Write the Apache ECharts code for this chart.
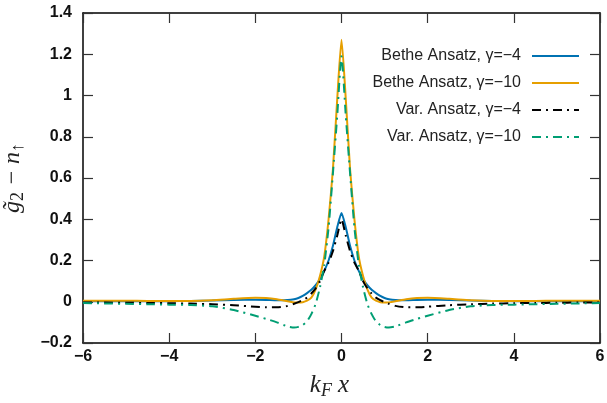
<!DOCTYPE html>
<html>
<head>
<meta charset="utf-8">
<script src="https://cdn.jsdelivr.net/npm/echarts@6/dist/echarts.min.js"></script>
<style>
  html, body { margin: 0; padding: 0; background: #fff; }
  #main { width: 607px; height: 403px; }
</style>
</head>
<body>
<div id="main"></div>
<script>
(function() {
    // x positions (k_F x)
    var xs = [-6, -5.5, -5, -4.5, -4, -3.5, -3, -2.5, -2, -1.75, -1.5, -1.25, -1.1, -1, -0.9, -0.8, -0.7, -0.6, -0.5, -0.4, -0.3, -0.2, -0.1,
              0,
              0.1, 0.2, 0.3, 0.4, 0.5, 0.6, 0.7, 0.8, 0.9, 1, 1.1, 1.25, 1.5, 1.75, 2, 2.5, 3, 3.5, 4, 4.5, 5, 5.5, 6];

    // Bethe Ansatz, gamma = -4
    var betheG4 = [0.003, 0.003, 0.003, 0.003, 0.003, 0.004, 0.006, 0.009, 0.01, 0.009, 0.007, 0.008, 0.012, 0.018, 0.028, 0.042, 0.058, 0.08, 0.11, 0.15, 0.2, 0.27, 0.36,
                   0.43,
                   0.36, 0.27, 0.2, 0.15, 0.11, 0.08, 0.058, 0.042, 0.028, 0.018, 0.012, 0.008, 0.007, 0.009, 0.01, 0.009, 0.006, 0.004, 0.003, 0.003, 0.003, 0.003, 0.003];

    // Bethe Ansatz, gamma = -10
    var betheG10 = [0.005, 0.005, 0.005, 0.004, 0.004, 0.004, 0.007, 0.014, 0.019, 0.018, 0.012, 0.002, -0.003, -0.004, -0.002, 0.005, 0.02, 0.06, 0.125, 0.22, 0.4, 0.64, 0.98,
                    1.27,
                    0.98, 0.64, 0.4, 0.22, 0.125, 0.06, 0.02, 0.005, -0.002, -0.004, -0.003, 0.002, 0.012, 0.018, 0.019, 0.014, 0.007, 0.004, 0.004, 0.004, 0.005, 0.005, 0.005];

    // Var. Ansatz, gamma = -4
    var varG4 = [-0.004, -0.004, -0.005, -0.006, -0.007, -0.009, -0.012, -0.017, -0.024, -0.027, -0.027, -0.02, -0.01, -0.002, 0.008, 0.02, 0.04, 0.065, 0.1, 0.15, 0.19, 0.245, 0.32,
                 0.40,
                 0.32, 0.245, 0.19, 0.15, 0.1, 0.065, 0.04, 0.02, 0.008, -0.002, -0.01, -0.02, -0.027, -0.027, -0.024, -0.017, -0.012, -0.009, -0.007, -0.006, -0.005, -0.004, -0.004];

    // Var. Ansatz, gamma = -10
    var varG10 = [-0.006, -0.008, -0.01, -0.012, -0.014, -0.016, -0.022, -0.04, -0.068, -0.083, -0.1, -0.12, -0.125, -0.122, -0.113, -0.095, -0.06, -0.01, 0.07, 0.18, 0.36, 0.62, 0.9,
                  1.19,
                  0.9, 0.62, 0.36, 0.18, 0.07, -0.01, -0.06, -0.095, -0.113, -0.122, -0.125, -0.12, -0.1, -0.083, -0.068, -0.04, -0.022, -0.016, -0.014, -0.012, -0.01, -0.008, -0.006];

    var seriesNames = ['Bethe Ansatz, γ=−4', 'Bethe Ansatz, γ=−10', 'Var. Ansatz, γ=−4', 'Var. Ansatz, γ=−10'];
    var seriesColors = ['#0072b2', '#e69f00', '#000000', '#009e73'];
    var seriesValues = [betheG4, betheG10, varG4, varG10];
    var dashDot = [9, 5, 2, 5];

    function pairs(ys) {
        return xs.map(function(x, i) { return [x, ys[i]]; });
    }

    function tickFmt(v) {
        var r = Math.round(v * 10) / 10;
        var s = (r === Math.round(r)) ? String(Math.abs(r)) : Math.abs(r).toFixed(1);
        return (r < 0 ? '\u2212' : '') + s;
    }

    var axisLine = { show: true, onZero: false, lineStyle: { color: '#000', width: 1.5 } };
    var tickIn = { show: true, inside: true, length: 10, lineStyle: { color: '#333', width: 1.2 } };

    var myChart = echarts.init(document.getElementById('main'));

    var option = {
        animation: false,
        backgroundColor: '#fff',
        textStyle: { fontFamily: 'Liberation Sans' },
        grid: { left: 83, right: 7, top: 13, bottom: 60, outerBoundsMode: 'none' },
        legend: {
            data: seriesNames,
            orient: 'vertical',
            right: 27,
            top: 48,
            padding: 0,
            align: 'right',
            itemWidth: 47,
            itemHeight: 12,
            itemGap: 11,
            itemStyle: { opacity: 0 },
            textStyle: { fontSize: 16, color: '#222', padding: [0, 6, 0, 0], fontFamily: 'Liberation Sans' }
        },
        xAxis: [{
            type: 'value',
            min: -6, max: 6, interval: 2,
            axisLine: axisLine,
            axisTick: tickIn,
            splitLine: { show: false },
            axisLabel: { formatter: tickFmt, fontSize: 16, fontWeight: 'bold', color: '#111', margin: 6 },
            name: '{k|k}{s|F}{k| x}',
            nameLocation: 'middle',
            nameGap: 27,
            nameTextStyle: {
                padding: [0, 24, 0, 0],
                rich: {
                    k: { fontFamily: 'Liberation Serif', fontStyle: 'italic', fontSize: 25, color: '#222' },
                    s: { fontFamily: 'Liberation Serif', fontStyle: 'italic', fontSize: 18, color: '#222', verticalAlign: 'bottom', padding: [12, 0, 0, 0] }
                }
            }
        }, {
            type: 'value',
            position: 'top',
            min: -6, max: 6, interval: 2,
            axisLine: axisLine,
            axisTick: tickIn,
            splitLine: { show: false },
            axisLabel: { show: false }
        }],
        yAxis: [{
            type: 'value',
            min: -0.2, max: 1.4, interval: 0.2,
            axisLine: axisLine,
            axisTick: tickIn,
            splitLine: { show: false },
            axisLabel: { formatter: tickFmt, fontSize: 16, fontWeight: 'bold', color: '#111', margin: 11 },
            name: '{k|g\u0303}{s|2}{k| \u2212 n}{s|\u2191}',
            nameLocation: 'middle',
            nameGap: 56,
            nameTextStyle: {
                rich: {
                    k: { fontFamily: 'Liberation Serif', fontStyle: 'italic', fontSize: 24, color: '#222' },
                    s: { fontFamily: 'Liberation Serif', fontSize: 18, color: '#222', verticalAlign: 'bottom', padding: [11, 0, 0, 0] }
                }
            }
        }, {
            type: 'value',
            position: 'right',
            min: -0.2, max: 1.4, interval: 0.2,
            axisLine: axisLine,
            axisTick: tickIn,
            splitLine: { show: false },
            axisLabel: { show: false }
        }],
        series: seriesNames.map(function(name, i) {
            return {
                name: name,
                type: 'line',
                xAxisIndex: 0,
                yAxisIndex: 0,
                symbol: 'none',
                showSymbol: false,
                smooth: 0.2,
                data: pairs(seriesValues[i]),
                itemStyle: { color: seriesColors[i] },
                lineStyle: { color: seriesColors[i], width: 2, type: i < 2 ? 'solid' : dashDot }
            };
        })
    };

    myChart.setOption(option);

    window.onresize = function() {
        myChart.resize();
    };
})();
</script>
</body>
</html>
